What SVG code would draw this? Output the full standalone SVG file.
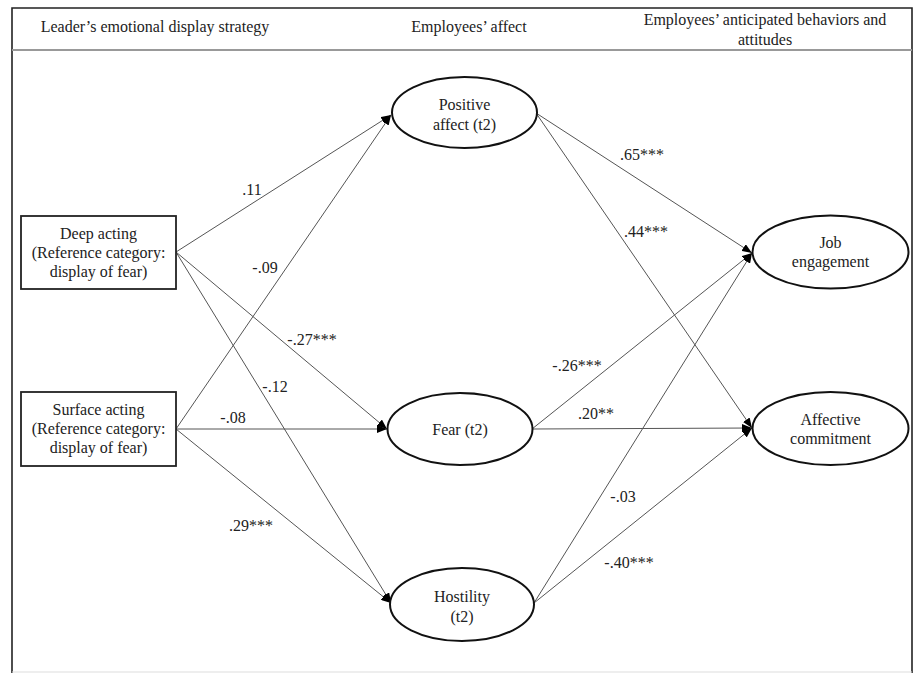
<svg xmlns="http://www.w3.org/2000/svg" width="917" height="673" viewBox="0 0 917 673">
<style>
text{font-family:"Liberation Serif","Times New Roman",serif;font-size:16px;fill:#222;text-anchor:middle}
.frame{stroke:#222;stroke-width:1.6;fill:none}
.sep{stroke:#999;stroke-width:2;fill:none}
.box{fill:#fff;stroke:#222;stroke-width:1.8}
.ell{fill:#fff;stroke:#111;stroke-width:2}
.edge{stroke:#555;stroke-width:1;fill:none;marker-end:url(#arr)}
</style>
<defs>
<marker id="arr" markerUnits="userSpaceOnUse" markerWidth="11" markerHeight="8" refX="10" refY="4" orient="auto">
<path d="M0,0 L10,4 L0,8 Z" fill="#000"/>
</marker>
</defs>
<rect width="917" height="673" fill="#fff"/>
<g id="frame">
<path class="frame" d="M12,673 V8 H912 V673"/>
<line class="sep" x1="12" y1="50" x2="912" y2="50"/>
<line x1="12" y1="672" x2="912" y2="672" stroke="#ddd" stroke-width="1"/>
</g>
<g id="headers">
<text x="155" y="32">Leader’s emotional display strategy</text>
<text x="469" y="32">Employees’ affect</text>
<text x="765" y="25">Employees’ anticipated behaviors and</text>
<text x="765" y="45">attitudes</text>
</g>
<g id="connectors">
<line class="edge" x1="176" y1="252" x2="391" y2="115"/>
<line class="edge" x1="176" y1="252" x2="387" y2="429"/>
<line class="edge" x1="176" y1="252" x2="391" y2="603"/>
<line class="edge" x1="176" y1="429" x2="391" y2="115"/>
<line class="edge" x1="176" y1="429" x2="387" y2="429"/>
<line class="edge" x1="176" y1="429" x2="391" y2="603"/>
<line class="edge" x1="536" y1="113" x2="752" y2="253"/>
<line class="edge" x1="536" y1="113" x2="752" y2="428"/>
<line class="edge" x1="532" y1="429" x2="752" y2="253"/>
<line class="edge" x1="532" y1="429" x2="752" y2="428"/>
<line class="edge" x1="534" y1="603" x2="752" y2="253"/>
<line class="edge" x1="534" y1="603" x2="752" y2="428"/>
</g>
<g id="edge-labels">
<text x="252" y="195">.11</text>
<text x="265" y="273">-.09</text>
<text x="312" y="345">-.27***</text>
<text x="275" y="392">-.12</text>
<text x="233" y="423">-.08</text>
<text x="251" y="531">.29***</text>
<text x="642" y="160">.65***</text>
<text x="646" y="237">.44***</text>
<text x="577" y="371">-.26***</text>
<text x="596" y="419">.20**</text>
<text x="623" y="502">-.03</text>
<text x="629" y="568">-.40***</text>
</g>
<g id="deep-acting">
<rect class="box" x="21" y="216" width="155" height="73"/>
<text x="98.5" y="239">Deep acting</text>
<text x="98.5" y="258">(Reference category:</text>
<text x="98.5" y="277">display of fear)</text>
</g>
<g id="surface-acting">
<rect class="box" x="21" y="392" width="155" height="74"/>
<text x="98.5" y="415">Surface acting</text>
<text x="98.5" y="434">(Reference category:</text>
<text x="98.5" y="453">display of fear)</text>
</g>
<g id="positive-affect">
<ellipse class="ell" cx="464.5" cy="112.5" rx="72.5" ry="35.5"/>
<text x="464.5" y="110">Positive</text>
<text x="464.5" y="130">affect (t2)</text>
</g>
<g id="fear">
<ellipse class="ell" cx="460" cy="429" rx="72.5" ry="36"/>
<text x="460" y="435">Fear (t2)</text>
</g>
<g id="hostility">
<ellipse class="ell" cx="462" cy="604.5" rx="72" ry="36.5"/>
<text x="462" y="602">Hostility</text>
<text x="462" y="622">(t2)</text>
</g>
<g id="job-engagement">
<ellipse class="ell" cx="830.5" cy="252" rx="78" ry="36.5"/>
<text x="830.5" y="248">Job</text>
<text x="830.5" y="267">engagement</text>
</g>
<g id="affective-commitment">
<ellipse class="ell" cx="830.5" cy="428.5" rx="78" ry="36.5"/>
<text x="830.5" y="425">Affective</text>
<text x="830.5" y="444">commitment</text>
</g>
</svg>
